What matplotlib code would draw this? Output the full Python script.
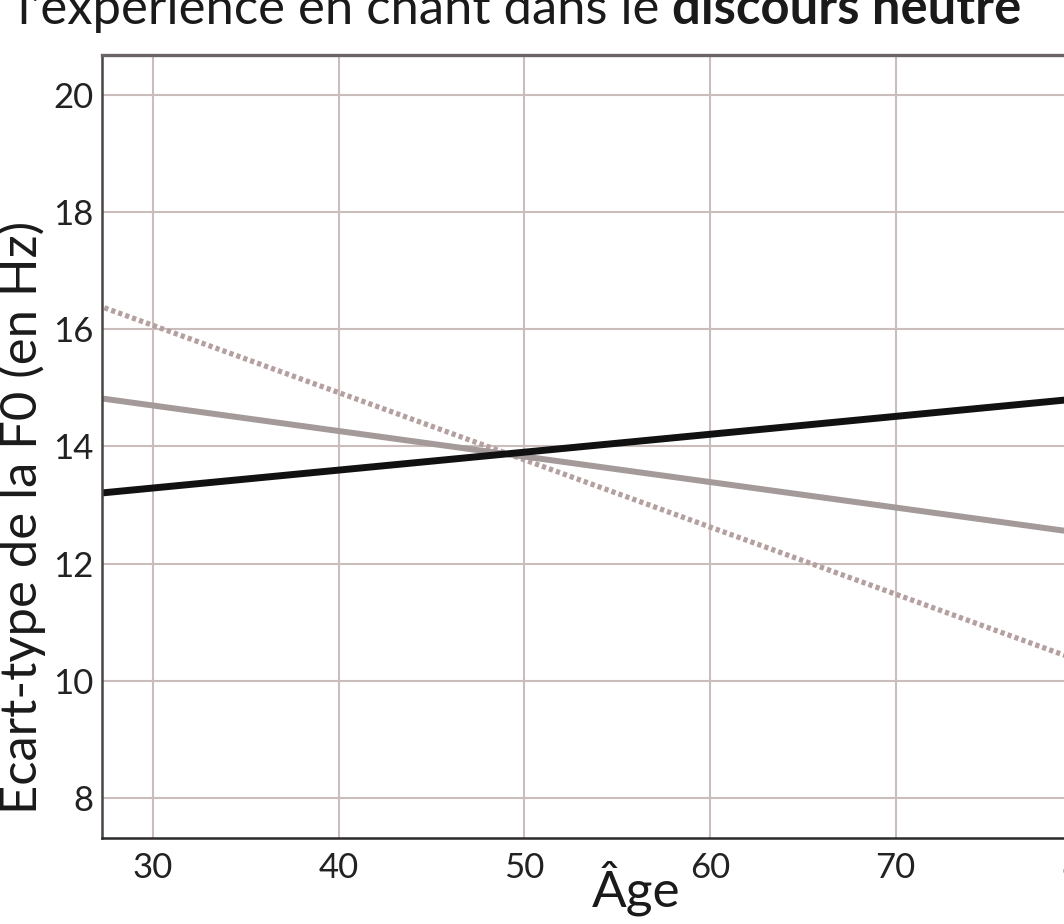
import numpy as np
import matplotlib
matplotlib.use('Agg')
import matplotlib.pyplot as plt

# regression lines (age -> SD of F0 in Hz)
ages = [27.0, 81.0]
noir = [13.20, 14.85]
gris = [14.83, 12.48]
pointilles = [16.41, 10.22]

xticks = [30, 40, 50, 60, 70, 80]
yticks = [8, 10, 12, 14, 16, 18, 20]

plt.rcParams['font.family'] = ['Lato', 'DejaVu Sans']

W, H = 1064, 924
fig = plt.figure(figsize=(W / 100, H / 100), dpi=100)

# axes runs past the right edge of the figure, like the cropped original
left, right, top, bottom = 102, 1174, 55, 838
ax = fig.add_axes([left / W, 1 - bottom / H, (right - left) / W, (bottom - top) / H])
ax.set_xlim(27.25, 85)
ax.set_ylim(7.32, 20.68)

ax.set_xticks(xticks)
ax.set_yticks(yticks)
ax.grid(True, color='#cbbdbb', linewidth=1.5)
ax.set_axisbelow(True)
ax.tick_params(length=0, labelsize=25, colors='#222222')
ax.tick_params(axis='x', pad=10)
ax.tick_params(axis='y', pad=6)

ax.spines['left'].set_color('#4a4444')
ax.spines['left'].set_linewidth(1.8)
ax.spines['bottom'].set_color('#2a2a2a')
ax.spines['bottom'].set_linewidth(1.8)
ax.spines['top'].set_color('#6a6464')
ax.spines['top'].set_linewidth(2.4)
ax.spines['right'].set_visible(False)

ax.plot(ages, pointilles, color='#b5a0a0', linewidth=3.8, linestyle=(0, (0.8, 0.6)))
ax.plot(ages, gris, color='#a39a99', linewidth=4.3, solid_capstyle='butt')
ax.plot(ages, noir, color='#111111', linewidth=5.0, solid_capstyle='butt')

fig.text(22 / W, 1 - 517 / H, 'Ecart-type de la F0 (en Hz)', rotation=90,
         ha='center', va='center', fontsize=36.5, color='#1a1a1a')
fig.text(636 / W, 1 - 888 / H, 'Âge', ha='center', va='center',
         fontsize=37, color='#1a1a1a')

# title, mostly cut off at the top of the picture
t1 = fig.text(18 / W, 1 - 24 / H, "l'expérience en chant dans le ", ha='left',
              va='baseline', fontsize=36.5, color='#1a1a1a')
fig.canvas.draw()
bb = t1.get_window_extent()
fig.text(bb.x1 / W, 1 - 24 / H, 'discours neutre', ha='left', va='baseline',
         fontsize=36.5, fontweight='bold', color='#1a1a1a')

fig.savefig('out.png', dpi=100)
